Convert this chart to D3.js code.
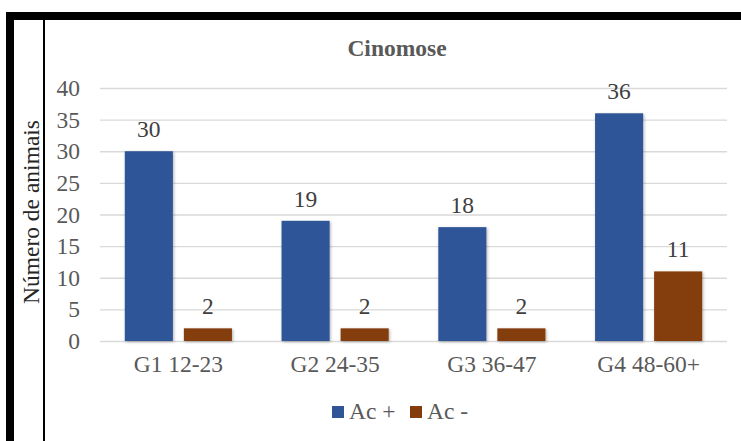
<!DOCTYPE html>
<html>
<head>
<meta charset="utf-8">
<script src="https://cdn.jsdelivr.net/npm/d3@7"></script>
<style>
  html, body { margin: 0; padding: 0; background: #fff; }
  svg { display: block; }
</style>
</head>
<body>
<svg id="chart" width="741" height="441"></svg>
<script>
// Age groups (months) and antibody results
const categories = ["G1 12-23", "G2 24-35", "G3 36-47", "G4 48-60+"];
const series = ["Ac +", "Ac -"];
const acPositive = [30, 19, 18, 36];
const acNegative = [2, 2, 2, 11];
const yTicks = [0, 5, 10, 15, 20, 25, 30, 35, 40];
const colors = ["#2F5597", "#843C0C"];

const svg = d3.select("#chart");
const font = "'Liberation Serif', 'Times New Roman', serif";
const fs = "23.5px";

// frame: heavy top rule, heavy left rule, thin inner left rule
svg.append("rect").attr("x", 6).attr("y", 12).attr("width", 735).attr("height", 8).attr("fill", "#000");
svg.append("rect").attr("x", 6).attr("y", 12).attr("width", 8).attr("height", 429).attr("fill", "#000");
svg.append("rect").attr("x", 43).attr("y", 20).attr("width", 2).attr("height", 421).attr("fill", "#000");

const defs = svg.append("defs");
const f = defs.append("filter").attr("id", "shadow")
  .attr("x", "-20%").attr("y", "-20%").attr("width", "140%").attr("height", "140%");
f.append("feDropShadow").attr("dx", 1).attr("dy", 1).attr("stdDeviation", 1.6)
  .attr("flood-color", "#000").attr("flood-opacity", 0.3);

const plot = { left: 100, right: 727, top: 88, bottom: 341 };

const y = d3.scaleLinear().domain([0, 40]).range([plot.bottom, plot.top]);
const x0 = d3.scaleBand().domain(categories).range([plot.left, plot.right]).padding(0);
const x1 = d3.scaleBand().domain(series).range([0, x0.bandwidth()])
  .paddingInner(0.186).paddingOuter(0.42);

// gridlines
const yAxis = d3.axisLeft(y).tickValues(yTicks).tickSize(-(plot.right - plot.left)).tickPadding(20);
const gy = svg.append("g").attr("transform", `translate(${plot.left},0)`).call(yAxis);
gy.select(".domain").remove();
gy.selectAll(".tick line").attr("stroke", "#d9d9d9").attr("stroke-width", 1.3);
gy.selectAll(".tick text").attr("fill", "#595959").style("font-family", font).style("font-size", fs);

// x labels
const xAxis = d3.axisBottom(x0).tickSize(0).tickPadding(14);
const gx = svg.append("g").attr("transform", `translate(0,${plot.bottom})`).call(xAxis);
gx.select(".domain").remove();
gx.selectAll(".tick text").attr("fill", "#595959").style("font-family", font).style("font-size", fs);

// bars
const rows = categories.map((c, i) => ({ cat: c, vals: [acPositive[i], acNegative[i]] }));
const groups = svg.append("g").selectAll("g").data(rows).join("g")
  .attr("transform", d => `translate(${x0(d.cat)},0)`);

groups.selectAll("rect").data(d => d.vals.map((v, j) => ({ s: series[j], v, j }))).join("rect")
  .attr("x", d => x1(d.s))
  .attr("y", d => y(d.v))
  .attr("width", x1.bandwidth())
  .attr("height", d => y(0) - y(d.v))
  .attr("fill", d => colors[d.j])
  .attr("filter", "url(#shadow)");

groups.selectAll("text").data(d => d.vals.map((v, j) => ({ s: series[j], v }))).join("text")
  .attr("x", d => x1(d.s) + x1.bandwidth() / 2)
  .attr("y", d => y(d.v) - 14)
  .attr("text-anchor", "middle")
  .attr("fill", "#404040")
  .style("font-family", font).style("font-size", fs)
  .text(d => d.v);

// title
svg.append("text").attr("x", 397).attr("y", 56).attr("text-anchor", "middle")
  .attr("fill", "#595959").style("font-family", font).style("font-size", fs)
  .style("font-weight", "bold").text("Cinomose");

// y-axis title
svg.append("text").attr("transform", "translate(39,212) rotate(-90)").attr("text-anchor", "middle")
  .attr("fill", "#262626").style("font-family", font).style("font-size", fs)
  .text("Número de animais");

// legend
const legend = svg.append("g");
const legendItems = [{ label: series[0], x: 332 }, { label: series[1], x: 410 }];
legendItems.forEach((d, i) => {
  legend.append("rect").attr("x", d.x).attr("y", 406).attr("width", 12).attr("height", 12).attr("fill", colors[i]);
  legend.append("text").attr("x", d.x + 17).attr("y", 419).attr("fill", "#595959")
    .style("font-family", font).style("font-size", fs).text(d.label);
});
</script>
</body>
</html>
